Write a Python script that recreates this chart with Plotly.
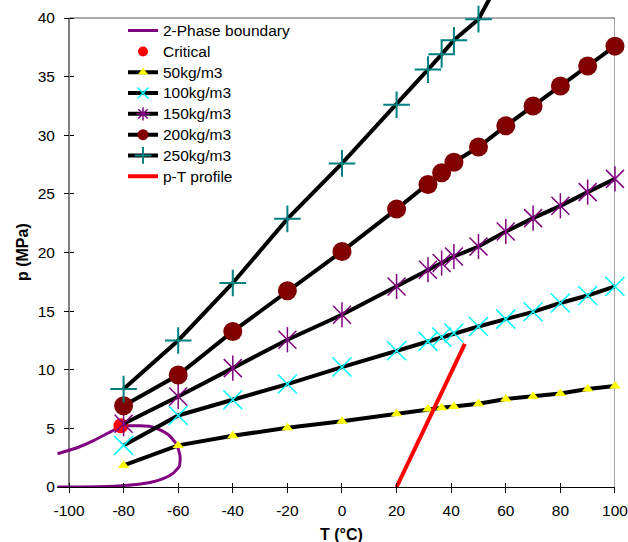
import plotly.graph_objects as go

# ---------------- data ----------------
T = [-80, -60, -40, -20, 0, 20, 31.5, 36.5, 41, 50, 60, 70, 80, 90, 100]
p_50 = [1.84, 3.55, 4.37, 5.05, 5.6, 6.25, 6.65, 6.76, 6.87, 7.1, 7.5, 7.72, 7.98, 8.35, 8.61]
p_100 = [3.55, 6.1, 7.44, 8.78, 10.23, 11.62, 12.42, 12.79, 13.13, 13.69, 14.32, 14.94, 15.69, 16.33, 17.1]
p_150 = [5.4, 7.72, 10.14, 12.56, 14.69, 17.1, 18.53, 19.1, 19.66, 20.51, 21.79, 22.93, 23.98, 25.15, 26.28]
p_200 = [6.93, 9.55, 13.27, 16.73, 20.09, 23.7, 25.8, 26.8, 27.7, 29.0, 30.8, 32.5, 34.2, 35.9, 37.6]
T_250 = [-80, -60, -40, -20, 0, 20, 31.5, 36.5, 41, 50, 60]
p_250 = [8.35, 12.5, 17.4, 22.87, 27.6, 32.6, 35.6, 36.9, 38.1, 39.9, 44.2]

T_boundary = [-104.2, -97.0, -91.0, -86.5, -83.5, -81.0, -78.9, -74.0, -70.3, -67.3, -63.6, -60.5,
              -59.3, -59.6, -61.8, -65.5, -70.3, -76.4, -86.2, -95.0, -104.2]
p_boundary = [2.84, 3.35, 3.95, 4.5, 4.86, 5.23, 5.23, 5.22, 5.17, 4.94, 4.46, 3.6,
              2.61, 1.76, 1.19, 0.71, 0.39, 0.2, 0.05, 0.01, 0.0]

T_critical = [-81.0]
p_critical = [5.23]

T_profile = [20, 45]
p_profile = [0, 12.2]

x_ticks = list(range(-100, 101, 20))
y_ticks = list(range(0, 41, 5))
x_tick_labels = [str(v) for v in x_ticks]
y_tick_labels = [str(v) for v in y_ticks]
X_MIN, X_MAX = -100, 100
Y_MIN, Y_MAX = 0, 40

# ---------------- layout geometry ----------------
FONT = "Liberation Sans, Arial, sans-serif"
W, H = 628, 542
ML, MR, MT, MB = 57, 13, 0, 55
plot_w = W - ML - MR
plot_h = H - MT - MB
AX_LEFT_PX = 69          # pixel of T = -100 (y axis line)
FRAME_TOP_PX = 18        # pixel of p = 40
ppx = (W - MR - AX_LEFT_PX) / (X_MAX - X_MIN)
ppy = (H - MB - FRAME_TOP_PX) / (Y_MAX - Y_MIN)
x_range = [X_MIN - (AX_LEFT_PX - ML) / ppx, X_MAX + 0.01]
y_range = [Y_MIN, Y_MAX + (FRAME_TOP_PX - MT) / ppy]
y_pos = (AX_LEFT_PX - ML) / plot_w

BLACK_W = 4
TXT = 15.5          # visible text size
LEG_ROW = 13.7      # legend row font size (controls row spacing)

series = [
    ("50kg/m3", T, p_50, dict(symbol="triangle-up", size=10, color="#FFFF00"),
     dict(symbol="triangle-up", size=9, color="#FFFF00")),
    ("100kg/m3", T, p_100, dict(symbol="x-thin-open", size=19, color="#00FFFF", line=dict(color="#00FFFF", width=1.5)),
     dict(symbol="x-thin-open", size=11, color="#00FFFF", line=dict(color="#00FFFF", width=1.5))),
    ("150kg/m3", T, p_150, dict(symbol="x-thin-open", size=18, color="#800080", line=dict(color="#800080", width=1.5)),
     dict(symbol="asterisk-open", size=11, color="#800080", line=dict(color="#800080", width=1.5))),
    ("200kg/m3", T, p_200, dict(symbol="circle", size=19, color="#800000"),
     dict(symbol="circle", size=11, color="#800000")),
    ("250kg/m3", T_250, p_250, dict(symbol="cross-thin-open", size=19, color="#008080", line=dict(color="#008080", width=2)),
     dict(symbol="cross-thin-open", size=12, color="#008080", line=dict(color="#008080", width=2))),
]


def leg(name):
    return f'<span style="font-size:{TXT}px">{name}</span>'


fig = go.Figure()

# plotted data
fig.add_trace(go.Scatter(x=T_boundary, y=p_boundary, mode="lines",
                         line=dict(color="#800080", width=3, shape="spline", smoothing=0.5),
                         showlegend=False, hoverinfo="skip"))
fig.add_trace(go.Scatter(x=T_critical, y=p_critical, mode="markers",
                         marker=dict(symbol="circle", size=15, color="#FF0000"),
                         showlegend=False, cliponaxis=False))
for name, xs, ys, mk, _ in series:
    fig.add_trace(go.Scatter(x=xs, y=ys, mode="lines+markers", name=name,
                             line=dict(color="black", width=BLACK_W), marker=mk,
                             showlegend=False, cliponaxis=False))
    if name == "150kg/m3":
        # vertical stroke completes the 6-armed asterisk
        fig.add_trace(go.Scatter(x=xs, y=ys, mode="markers",
                                 marker=dict(symbol="line-ns-open", size=18, color="#800080",
                                             line=dict(color="#800080", width=1.5)),
                                 showlegend=False, cliponaxis=False, hoverinfo="skip"))
fig.add_trace(go.Scatter(x=T_profile, y=p_profile, mode="lines",
                         line=dict(color="#FF0000", width=4), showlegend=False))

# legend entries
fig.add_trace(go.Scatter(x=[None], y=[None], mode="lines", name=leg("2-Phase boundary"),
                         line=dict(color="#800080", width=3)))
fig.add_trace(go.Scatter(x=[None], y=[None], mode="markers", name=leg("Critical"),
                         marker=dict(symbol="circle", size=10, color="#FF0000")))
for name, _, _, _, lmk in series:
    fig.add_trace(go.Scatter(x=[None], y=[None], mode="lines+markers", name=leg(name),
                             line=dict(color="black", width=BLACK_W), marker=lmk))
fig.add_trace(go.Scatter(x=[None], y=[None], mode="lines", name=leg("p-T profile"),
                         line=dict(color="#FF0000", width=4)))

# invisible trace for the overlay (inside-tick) axes
fig.add_trace(go.Scatter(x=[None], y=[None], xaxis="x2", yaxis="y2", showlegend=False))

frame = [
    dict(type="line", xref="x", yref="y", x0=X_MIN, x1=X_MIN, y0=Y_MIN, y1=Y_MAX,
         line=dict(color="black", width=1), layer="below"),
    dict(type="line", xref="x", yref="y", x0=X_MIN, x1=X_MAX, y0=Y_MAX, y1=Y_MAX,
         line=dict(color="#555555", width=1), layer="below"),
    dict(type="line", xref="x", yref="y", x0=X_MAX, x1=X_MAX, y0=Y_MIN, y1=Y_MAX,
         line=dict(color="#555555", width=1), layer="below"),
]

tickfont = dict(family=FONT, size=TXT, color="black")

fig.update_layout(
    width=W, height=H,
    margin=dict(l=ML, r=MR, t=MT, b=MB, autoexpand=False),
    paper_bgcolor="white", plot_bgcolor="white",
    font=dict(family=FONT, size=TXT, color="black"),
    shapes=frame,
    xaxis=dict(range=x_range, tickmode="array", tickvals=x_ticks, ticktext=x_tick_labels,
               ticks="outside", ticklen=5,
               tickcolor="black", showline=True, linecolor="black", linewidth=1,
               showgrid=False, zeroline=False, tickfont=tickfont, ticklabelstandoff=4,
               ticklabeloverflow="allow", tickangle=0, anchor="y", domain=[0, 1]),
    yaxis=dict(range=y_range, tickmode="array", tickvals=y_ticks, ticktext=y_tick_labels,
               ticks="outside", ticklen=5,
               tickcolor="black", showline=False, showgrid=False, zeroline=False,
               tickfont=tickfont, anchor="free", position=y_pos, ticklabelstandoff=6,
               domain=[0, 1]),
    xaxis2=dict(range=x_range, overlaying="x", anchor="y", tickmode="array", tickvals=x_ticks,
                ticks="inside", ticklen=4, tickcolor="black", showticklabels=False,
                showline=False, showgrid=False, zeroline=False),
    yaxis2=dict(range=y_range, overlaying="y", anchor="free", position=y_pos, side="left",
                tickmode="array", tickvals=y_ticks, ticks="inside", ticklen=4, tickcolor="black",
                showticklabels=False, showline=False, showgrid=False, zeroline=False),
    legend=dict(x=(123 - ML) / plot_w, y=(H - MB - 15.2) / plot_h,
                xanchor="left", yanchor="top", bgcolor="rgba(0,0,0,0)",
                font=dict(family=FONT, size=LEG_ROW, color="black"), tracegroupgap=0),
    annotations=[
        dict(text="<b>T (°C)</b>", xref="x", yref="paper", x=0, y=(H - MB - 534) / plot_h,
             showarrow=False, xanchor="center", yanchor="middle",
             font=dict(family=FONT, size=16, color="black")),
        dict(text="<b>p (MPa)</b>", xref="paper", yref="paper", x=(22 - ML) / plot_w,
             y=(H - MB - 252) / plot_h, textangle=-90, showarrow=False,
             xanchor="center", yanchor="middle",
             font=dict(family=FONT, size=16, color="black")),
    ],
)

fig.write_html("out.html")
